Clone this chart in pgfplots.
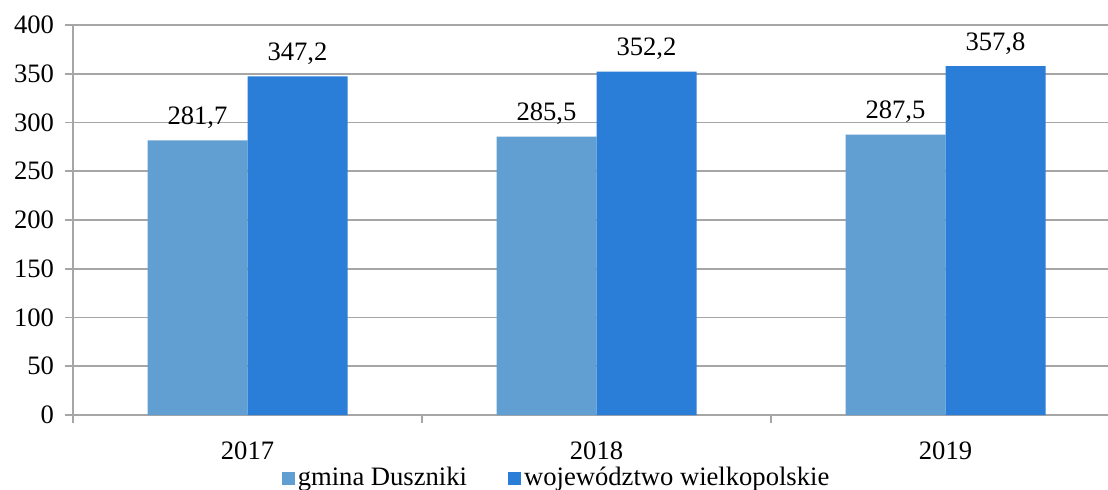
\documentclass[border=0pt]{standalone}
\usepackage{fontspec}
\setmainfont{Liberation Serif}
\usepackage{pgfplots}
\pgfplotsset{compat=1.18}

\definecolor{gmina}{HTML}{619FD3}
\definecolor{woj}{HTML}{2A7ED8}
\definecolor{gridgray}{HTML}{A6A6A6}

\begin{document}
\begin{tikzpicture}
\begin{axis}[
  at={(0,0)}, anchor=south west,
  scale only axis,
  width=517.5pt, height=195pt,
  ybar=0pt, bar width=50pt,
  xmin=-0.5, xmax=2.4656,
  ymin=0, ymax=400,
  xtick={0,1,2},
  xticklabels={2017,2018,2019},
  minor xtick={-0.5,0.5,1.5},
  ytick={0,50,...,400},
  axis x line*=bottom, axis y line*=left,
  axis line style={-,draw=gridgray,line width=0.9pt},
  ymajorgrids, grid style={gridgray,line width=0.9pt},
  major x tick style={draw=none},
  minor x tick style={draw=gridgray,line width=0.9pt},
  major y tick style={draw=gridgray,line width=0.9pt},
  tick align=outside,
  major tick length=4pt, minor tick length=4pt,
  /pgf/number format/assume math mode=true,
  ticklabel style={font=\fontsize{13.3}{15}\selectfont},
  yticklabel style={xshift=-2pt},
  xticklabel style={yshift=-6pt},
  nodes near coords,
  every node near coord/.append style={font=\fontsize{13.3}{15}\selectfont, yshift=2.5pt,
    /pgf/number format/.cd, use comma, fixed, precision=1, fixed zerofill, assume math mode=true},
  legend style={at={(axis description cs:0.4676,0)}, anchor=north, yshift=-24pt,
    draw=none, fill=none, legend columns=2, inner sep=0pt,
    nodes={inner xsep=1.5pt},
    font=\fontsize{13.3}{15}\selectfont,
    /tikz/every even column/.append style={column sep=19pt}},
  legend image code/.code={\fill[#1] (0pt,-3.3pt) rectangle (6.6pt,3.3pt);},
]
\addplot[fill=gmina, draw=none] coordinates {(0,281.7) (1,285.5) (2,287.5)};
\addplot[fill=woj, draw=none] coordinates {(0,347.2) (1,352.2) (2,357.8)};
\legend{gmina Duszniki, województwo wielkopolskie}
\end{axis}
\pgfresetboundingbox
\path[use as bounding box] (-36.5pt,-37pt) rectangle (517.5pt,207.5pt);
\end{tikzpicture}
\end{document}
